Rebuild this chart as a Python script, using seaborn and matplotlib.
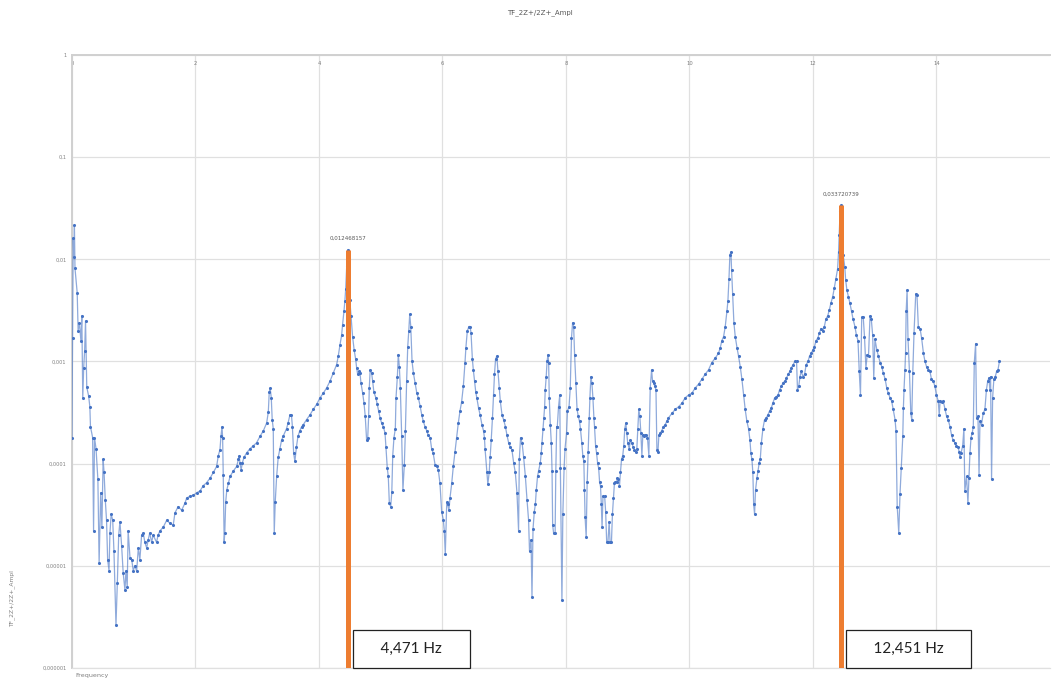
import pandas as pd
import seaborn as sns
import matplotlib.pyplot as plt
import numpy as np
from matplotlib.ticker import FuncFormatter, LogLocator, MultipleLocator, NullLocator

# frequency (Hz) / amplitude, split in segments
freq_1 = [0.000, 0.010, 0.020, 0.030, 0.040, 0.049, 0.085, 0.100, 0.120, 0.145, 0.160,
          0.175, 0.190, 0.205, 0.220, 0.240, 0.270, 0.290, 0.300, 0.335, 0.350,
          0.365, 0.390, 0.420, 0.440, 0.465, 0.485, 0.505, 0.520, 0.540, 0.560,
          0.578, 0.600, 0.615, 0.635, 0.660, 0.680, 0.713, 0.735, 0.757, 0.777,
          0.805, 0.830, 0.858, 0.875, 0.895, 0.910, 0.940, 0.967, 0.993, 1.020,
          1.048, 1.075, 1.100, 1.128, 1.155, 1.180, 1.210, 1.235, 1.260, 1.290,
          1.315, 1.370, 1.395, 1.425, 1.480, 1.535, 1.590, 1.640, 1.668, 1.720,
          1.776, 1.830, 1.857, 1.910, 1.965, 2.020, 2.073, 2.127, 2.180, 2.235,
          2.290, 2.343, 2.370, 2.397, 2.413, 2.430]
ampl_1 = [1.8e-4, 1.7e-3, 1.6e-2, 1.05e-2, 2.15e-2, 8.2e-3, 4.7e-3, 2.0e-3, 2.4e-3, 1.6e-3, 2.8e-3,
          4.4e-4, 8.7e-4, 1.26e-3, 2.5e-3, 5.6e-4, 4.6e-4, 3.6e-4, 2.3e-4, 1.8e-4, 2.2e-5,
          1.8e-4, 1.4e-4, 7.0e-5, 1.07e-5, 5.2e-5, 2.4e-5, 1.1e-4, 8.2e-5, 4.4e-5, 2.8e-5,
          1.15e-5, 9.0e-6, 2.1e-5, 3.2e-5, 2.8e-5, 1.4e-5, 2.65e-6, 6.8e-6, 2.0e-5, 2.7e-5,
          1.55e-5, 8.5e-6, 5.8e-6, 9.0e-6, 6.2e-6, 2.2e-5, 1.2e-5, 1.15e-5, 9.0e-6, 1.0e-5,
          8.9e-6, 1.5e-5, 1.15e-5, 2.0e-5, 2.1e-5, 1.7e-5, 1.5e-5, 1.8e-5, 2.1e-5, 1.7e-5,
          2.0e-5, 1.7e-5, 2.0e-5, 2.2e-5, 2.4e-5, 2.8e-5, 2.6e-5, 2.5e-5, 3.3e-5, 3.8e-5,
          3.5e-5, 4.1e-5, 4.6e-5, 4.8e-5, 4.9e-5, 5.2e-5, 5.4e-5, 6.1e-5, 6.5e-5, 7.2e-5,
          8.2e-5, 9.4e-5, 1.2e-4, 1.37e-4, 1.85e-4, 2.3e-4]

freq_2 = [2.440, 2.450, 2.465, 2.475, 2.490, 2.507, 2.533, 2.560, 2.615, 2.668,
          2.695, 2.710, 2.720, 2.740, 2.760, 2.785, 2.830, 2.883, 2.937, 2.990,
          3.045, 3.100, 3.153, 3.180, 3.195, 3.210, 3.228, 3.243, 3.260, 3.276,
          3.292, 3.315, 3.340, 3.368, 3.395, 3.420, 3.475, 3.500, 3.530, 3.555,
          3.570, 3.590, 3.610, 3.635, 3.660, 3.690, 3.720, 3.745, 3.800, 3.854,
          3.908, 3.962, 4.016, 4.070, 4.124, 4.178, 4.232, 4.286, 4.313, 4.340,
          4.367, 4.383, 4.405, 4.420, 4.433, 4.450]
ampl_2 = [1.8e-4, 7.8e-5, 1.7e-5, 2.1e-5, 4.2e-5, 5.5e-5, 6.4e-5, 7.5e-5, 8.5e-5, 9.4e-5,
          1.1e-4, 1.2e-4, 1.02e-4, 8.7e-5, 1.02e-4, 1.15e-4, 1.28e-4, 1.4e-4, 1.5e-4, 1.6e-4,
          1.85e-4, 2.1e-4, 2.5e-4, 3.2e-4, 5.0e-4, 5.5e-4, 4.4e-4, 2.7e-4, 2.2e-4, 2.1e-5,
          4.2e-5, 7.5e-5, 1.15e-4, 1.4e-4, 1.7e-4, 1.85e-4, 2.2e-4, 2.5e-4, 3.0e-4, 3.0e-4,
          2.3e-4, 1.28e-4, 1.05e-4, 1.45e-4, 1.85e-4, 2.1e-4, 2.3e-4, 2.4e-4, 2.7e-4, 3.0e-4,
          3.4e-4, 3.8e-4, 4.4e-4, 4.9e-4, 5.5e-4, 6.4e-4, 7.7e-4, 9.3e-4, 1.13e-3, 1.45e-3,
          1.8e-3, 2.3e-3, 3.1e-3, 3.9e-3, 5.1e-3, 8.7e-3]

freq_3 = [4.471, 4.500, 4.520, 4.545, 4.570, 4.595, 4.610, 4.627, 4.643, 4.665,
          4.680, 4.708, 4.730, 4.750, 4.772, 4.790, 4.805, 4.815, 4.830, 4.853,
          4.870, 4.890, 4.923, 4.945, 4.967, 4.990, 5.015, 5.043, 5.070, 5.085,
          5.107, 5.123, 5.140, 5.162, 5.180, 5.195, 5.215, 5.237, 5.248, 5.270,
          5.285, 5.302, 5.318, 5.340, 5.360, 5.383, 5.400, 5.420, 5.438, 5.455,
          5.470, 5.487, 5.508, 5.530, 5.557, 5.585, 5.610, 5.637, 5.665, 5.690,
          5.718, 5.745, 5.770, 5.800, 5.825, 5.850, 5.880, 5.907, 5.933, 5.960]
ampl_3 = [1.2468157e-2, 4.0e-3, 2.8e-3, 1.75e-3, 1.3e-3, 1.05e-3, 8.7e-4, 7.5e-4, 8.0e-4, 7.7e-4,
          6.2e-4, 4.9e-4, 3.9e-4, 2.9e-4, 1.7e-4, 1.8e-4, 2.9e-4, 5.5e-4, 8.3e-4, 7.7e-4,
          6.4e-4, 5.0e-4, 4.4e-4, 3.8e-4, 3.3e-4, 2.8e-4, 2.5e-4, 2.3e-4, 2.0e-4, 1.45e-4,
          9.0e-5, 7.5e-5, 4.1e-5, 3.8e-5, 5.3e-5, 1.2e-4, 1.8e-4, 2.2e-4, 4.4e-4, 7.1e-4,
          1.17e-3, 8.9e-4, 5.5e-4, 1.85e-4, 5.5e-5, 9.8e-5, 2.1e-4, 6.4e-4, 1.4e-3, 2.0e-3,
          2.9e-3, 2.2e-3, 1.0e-3, 7.7e-4, 6.2e-4, 4.9e-4, 4.4e-4, 3.7e-4, 3.0e-4, 2.6e-4,
          2.3e-4, 2.1e-4, 1.9e-4, 1.8e-4, 1.4e-4, 1.27e-4, 9.8e-5, 9.4e-5, 8.7e-5, 6.4e-5]

freq_4 = [5.987, 6.015, 6.030, 6.046, 6.070, 6.085, 6.105, 6.122, 6.150, 6.176,
          6.203, 6.230, 6.257, 6.285, 6.310, 6.338, 6.365, 6.380, 6.403, 6.430,
          6.447, 6.463, 6.485, 6.500, 6.520, 6.540, 6.557, 6.585, 6.610, 6.640,
          6.665, 6.680, 6.690, 6.720, 6.735, 6.757, 6.773, 6.790, 6.810, 6.827,
          6.843, 6.860, 6.880, 6.900, 6.920, 6.937, 6.965, 6.990, 7.020, 7.045,
          7.072, 7.100, 7.125, 7.153, 7.180, 7.207, 7.233, 7.245, 7.265, 7.290,
          7.315, 7.343, 7.370, 7.395, 7.410, 7.435, 7.450, 7.467, 7.488, 7.505,
          7.520, 7.540, 7.557, 7.585, 7.600, 7.612, 7.628, 7.640, 7.655, 7.665,
          7.680, 7.694, 7.710, 7.720, 7.730, 7.747, 7.763, 7.775, 7.785, 7.800,
          7.825, 7.836, 7.850, 7.860, 7.880, 7.900]
ampl_4 = [3.4e-5, 2.8e-5, 2.2e-5, 1.3e-5, 4.2e-5, 4.0e-5, 3.5e-5, 4.6e-5, 6.4e-5, 9.4e-5,
          1.3e-4, 1.8e-4, 2.5e-4, 3.3e-4, 4.0e-4, 5.7e-4, 9.7e-4, 1.37e-3, 2.0e-3, 2.2e-3,
          2.2e-3, 1.9e-3, 1.05e-3, 8.3e-4, 6.4e-4, 5.0e-4, 4.4e-4, 3.5e-4, 3.0e-4, 2.4e-4,
          2.1e-4, 1.8e-4, 1.4e-4, 8.2e-5, 6.3e-5, 8.2e-5, 1.15e-4, 1.7e-4, 2.8e-4, 4.7e-4,
          7.5e-4, 1.05e-3, 1.13e-3, 8.0e-4, 5.5e-4, 4.1e-4, 3.0e-4, 2.7e-4, 2.3e-4, 1.9e-4,
          1.6e-4, 1.45e-4, 1.37e-4, 1.02e-4, 8.2e-5, 5.2e-5, 2.2e-5, 1.1e-4, 1.8e-4, 1.6e-4,
          1.15e-4, 7.5e-5, 4.4e-5, 2.8e-5, 1.4e-5, 1.8e-5, 5.0e-6, 2.3e-5, 3.4e-5, 4.0e-5,
          5.5e-5, 7.5e-5, 8.5e-5, 1.02e-4, 1.27e-4, 1.6e-4, 2.2e-4, 2.8e-4, 3.6e-4, 5.3e-4,
          7.0e-4, 1.0e-3, 1.17e-3, 9.7e-4, 4.4e-4, 2.4e-4, 1.6e-4, 8.5e-5, 2.5e-5, 2.1e-5,
          2.1e-5, 8.5e-5, 2.3e-4, 2.3e-4, 3.6e-4, 4.7e-4]

freq_5 = [7.910, 7.935, 7.950, 7.970, 7.985, 8.010, 8.025, 8.050, 8.070, 8.090,
          8.108, 8.125, 8.140, 8.160, 8.180, 8.200, 8.220, 8.235, 8.257, 8.273,
          8.290, 8.300, 8.310, 8.328, 8.344, 8.360, 8.377, 8.388, 8.404, 8.420,
          8.437, 8.453, 8.463, 8.480, 8.496, 8.512, 8.530, 8.545, 8.560, 8.573,
          8.585, 8.600, 8.627, 8.643, 8.660, 8.680, 8.700, 8.715, 8.737, 8.753,
          8.770, 8.785, 8.800, 8.820, 8.835, 8.850, 8.867, 8.883, 8.900, 8.920,
          8.937, 8.953, 8.970, 8.985, 9.000, 9.025, 9.045, 9.067, 9.090, 9.110,
          9.130, 9.148, 9.165, 9.180, 9.197, 9.213, 9.230, 9.245, 9.262, 9.277,
          9.300, 9.320, 9.343, 9.365, 9.387, 9.403, 9.420, 9.440, 9.458, 9.473,
          9.490, 9.505, 9.530, 9.550, 9.580, 9.605, 9.633, 9.660, 9.715, 9.770,
          9.823, 9.877, 9.930, 9.985]
ampl_5 = [9.0e-5, 4.6e-6, 3.2e-5, 9.0e-5, 1.4e-4, 2.0e-4, 3.3e-4, 3.6e-4, 5.5e-4, 1.7e-3,
          2.4e-3, 2.2e-3, 1.17e-3, 6.2e-4, 3.4e-4, 2.9e-4, 2.6e-4, 2.2e-4, 1.6e-4, 1.2e-4,
          1.05e-4, 5.5e-5, 3.0e-5, 1.9e-5, 6.6e-5, 1.3e-4, 2.8e-4, 4.4e-4, 7.1e-4, 6.2e-4,
          4.4e-4, 2.8e-4, 2.3e-4, 1.5e-4, 1.27e-4, 1.02e-4, 9.0e-5, 6.6e-5, 6.0e-5, 4.0e-5,
          2.4e-5, 4.8e-5, 4.8e-5, 3.4e-5, 1.7e-5, 1.7e-5, 2.7e-5, 1.7e-5, 1.7e-5, 3.2e-5,
          4.6e-5, 6.4e-5, 6.6e-5, 6.6e-5, 7.3e-5, 7.0e-5, 6.0e-5, 8.2e-5, 1.1e-4, 1.2e-4,
          1.5e-4, 2.2e-4, 2.5e-4, 2.0e-4, 1.6e-4, 1.4e-4, 1.7e-4, 1.6e-4, 1.45e-4, 1.37e-4,
          1.3e-4, 1.4e-4, 2.2e-4, 3.4e-4, 2.9e-4, 2.0e-4, 1.2e-4, 1.9e-4, 1.85e-4, 1.9e-4,
          1.9e-4, 1.8e-4, 1.2e-4, 5.5e-4, 8.3e-4, 6.4e-4, 6.2e-4, 5.7e-4, 5.3e-4, 1.37e-4,
          1.3e-4, 1.9e-4, 2.0e-4, 2.1e-4, 2.3e-4, 2.4e-4, 2.6e-4, 2.8e-4, 3.1e-4, 3.4e-4,
          3.6e-4, 3.9e-4, 4.4e-4, 4.7e-4]

freq_6 = [10.040, 10.093, 10.147, 10.200, 10.255, 10.310, 10.360, 10.417, 10.470, 10.500,
          10.525, 10.553, 10.580, 10.607, 10.623, 10.640, 10.655, 10.672, 10.683, 10.700,
          10.720, 10.742, 10.770, 10.795, 10.823, 10.850, 10.877, 10.903, 10.930, 10.957,
          10.980, 10.995, 11.012, 11.027, 11.040, 11.055, 11.070, 11.093, 11.110, 11.130,
          11.147, 11.165, 11.190, 11.217, 11.245, 11.270, 11.300, 11.325, 11.350, 11.380,
          11.405, 11.435, 11.460, 11.490, 11.515, 11.545, 11.570, 11.600, 11.625, 11.650,
          11.680, 11.705, 11.735, 11.750, 11.770, 11.790, 11.810, 11.840, 11.865, 11.890,
          11.920, 11.945, 11.970, 12.000, 12.025, 12.050, 12.080, 12.105, 12.130, 12.160,
          12.185, 12.210, 12.240, 12.265, 12.290, 12.320, 12.345, 12.370, 12.400, 12.415,
          12.425, 12.440, 12.451]
ampl_6 = [4.9e-4, 5.5e-4, 6.0e-4, 6.7e-4, 7.5e-4, 8.3e-4, 9.7e-4, 1.08e-3, 1.2e-3, 1.37e-3,
          1.6e-3, 1.75e-3, 2.2e-3, 3.1e-3, 3.9e-3, 6.4e-3, 1.1e-2, 1.18e-2, 7.8e-3, 4.6e-3,
          2.4e-3, 1.75e-3, 1.37e-3, 1.13e-3, 8.9e-4, 6.7e-4, 4.7e-4, 3.4e-4, 2.6e-4, 2.2e-4,
          1.7e-4, 1.27e-4, 1.1e-4, 8.2e-5, 4.0e-5, 3.2e-5, 5.5e-5, 7.2e-5, 8.5e-5, 1.02e-4,
          1.1e-4, 1.6e-4, 2.2e-4, 2.7e-4, 2.8e-4, 3.0e-4, 3.3e-4, 3.5e-4, 3.9e-4, 4.4e-4,
          4.5e-4, 4.7e-4, 5.3e-4, 5.7e-4, 6.2e-4, 6.4e-4, 6.9e-4, 7.5e-4, 8.0e-4, 8.7e-4,
          9.3e-4, 1.0e-3, 1.0e-3, 5.3e-4, 5.7e-4, 7.1e-4, 8.0e-4, 7.1e-4, 7.5e-4, 9.3e-4,
          1.0e-3, 1.13e-3, 1.2e-3, 1.3e-3, 1.4e-3, 1.6e-3, 1.7e-3, 1.9e-3, 2.1e-3, 2.0e-3,
          2.2e-3, 2.6e-3, 2.8e-3, 3.2e-3, 3.7e-3, 4.3e-3, 5.2e-3, 6.4e-3, 8.1e-3, 1.18e-2,
          1.72e-2, 3.0e-2, 3.3720739e-2]

freq_7 = [12.490, 12.516, 12.530, 12.550, 12.575, 12.600, 12.625, 12.650, 12.680, 12.705,
          12.730, 12.750, 12.770, 12.790, 12.815, 12.835, 12.858, 12.880, 12.900, 12.925,
          12.945, 12.968, 12.985, 13.005, 13.035, 13.060, 13.090, 13.115, 13.140, 13.170,
          13.195, 13.220, 13.250, 13.275, 13.300, 13.330, 13.345, 13.365, 13.390, 13.410,
          13.430, 13.455, 13.465, 13.475, 13.490, 13.500, 13.510, 13.525, 13.540, 13.563,
          13.585, 13.600, 13.617, 13.637, 13.665, 13.685, 13.707, 13.735, 13.760, 13.790,
          13.815, 13.840, 13.870, 13.895, 13.920, 13.950, 13.976, 14.000, 14.030, 14.045,
          14.060, 14.085, 14.110, 14.140, 14.165, 14.190, 14.220, 14.245, 14.270, 14.300,
          14.325, 14.350, 14.370, 14.380, 14.400, 14.425, 14.445, 14.460, 14.488, 14.510,
          14.527, 14.543, 14.560, 14.580, 14.597, 14.613, 14.635, 14.650, 14.673, 14.690,
          14.705, 14.730, 14.757, 14.785, 14.810, 14.830, 14.850, 14.865, 14.877, 14.893,
          14.910, 14.930, 14.953, 14.975, 14.997, 15.020]
ampl_7 = [1.1e-2, 8.4e-3, 6.3e-3, 5.0e-3, 4.3e-3, 3.7e-3, 3.1e-3, 2.6e-3, 2.2e-3, 1.8e-3,
          1.6e-3, 8.0e-4, 4.7e-4, 2.7e-3, 2.7e-3, 1.75e-3, 8.7e-4, 1.17e-3, 1.13e-3, 2.8e-3,
          2.6e-3, 1.8e-3, 6.9e-4, 1.65e-3, 1.3e-3, 1.13e-3, 9.7e-4, 8.9e-4, 7.7e-4, 6.7e-4,
          5.5e-4, 4.9e-4, 4.4e-4, 4.1e-4, 3.4e-4, 2.7e-4, 2.1e-4, 3.8e-5, 2.1e-5, 5.0e-5,
          9.0e-5, 1.85e-4, 3.5e-4, 5.3e-4, 8.3e-4, 1.2e-3, 3.1e-3, 5.0e-3, 1.65e-3, 8.0e-4,
          3.1e-4, 2.7e-4, 7.7e-4, 1.9e-3, 4.6e-3, 4.5e-3, 2.2e-3, 2.1e-3, 1.7e-3, 1.2e-3,
          1.0e-3, 8.9e-4, 8.3e-4, 8.0e-4, 6.7e-4, 6.4e-4, 5.7e-4, 4.7e-4, 4.1e-4, 3.0e-4,
          4.1e-4, 4.0e-4, 4.1e-4, 3.4e-4, 2.9e-4, 2.7e-4, 2.3e-4, 1.9e-4, 1.7e-4, 1.6e-4,
          1.5e-4, 1.45e-4, 1.3e-4, 1.15e-4, 1.27e-4, 1.5e-4, 2.2e-4, 5.4e-5, 7.5e-5, 4.1e-5,
          7.2e-5, 1.27e-4, 1.8e-4, 2.0e-4, 2.3e-4, 9.7e-4, 1.5e-3, 2.8e-4, 2.9e-4, 7.8e-5,
          2.6e-4, 2.4e-4, 3.1e-4, 3.4e-4, 5.3e-4, 6.4e-4, 6.9e-4, 5.3e-4, 7.1e-4, 7.0e-5,
          4.4e-4, 6.7e-4, 7.1e-4, 8.0e-4, 8.3e-4, 1.0e-3]

# marked resonance peaks
peak_freq = [4.471, 12.451]
peak_ampl = [0.012468157, 0.033720739]

segments = [(freq_1, ampl_1), (freq_2, ampl_2), (freq_3, ampl_3), (freq_4, ampl_4),
            (freq_5, ampl_5), (freq_6, ampl_6), (freq_7, ampl_7)]
df = pd.concat([pd.DataFrame({'freq': f, 'ampl': a}) for f, a in segments], ignore_index=True)

blue = '#4472C4'
orange = '#ED7D31'
grey_txt = '#7F7F7F'

sns.set_theme(style='white')
plt.rcParams['font.family'] = ['DejaVu Sans']

fig = plt.figure(figsize=(10.55, 6.84), dpi=100)
ax = fig.add_axes([0.0682, 0.0234, 0.9271, 0.8962])

# line + markers (line a bit lighter than the dots)
sns.lineplot(data=df, x='freq', y='ampl', ax=ax, color=blue, lw=0.9, alpha=0.6,
             estimator=None, sort=False, zorder=3)
sns.scatterplot(data=df, x='freq', y='ampl', ax=ax, color=blue, s=5, linewidth=0, zorder=4)

ax.set_yscale('log')
ax.set_ylim(1e-6, 1)
ax.set_xlim(0, 15.84)

# orange markers for the two peaks
for f, a in zip(peak_freq, peak_ampl):
    ax.vlines(f, 1e-6, a, color=orange, lw=3.6, zorder=5)
    ax.annotate(f"{a:.9f}".replace('.', ','), xy=(f, a), xytext=(0, 6),
                textcoords='offset points', ha='center', va='bottom',
                fontsize=4, color='#595959')
    ax.annotate("    " + f"{f:.3f}".replace('.', ',') + " Hz    ", xy=(f, 1e-6),
                xytext=(12.4, 8.8), textcoords='offset points', ha='left', va='bottom',
                fontsize=11, family=['Lato', 'DejaVu Sans'], color='#222222', zorder=6,
                annotation_clip=False,
                bbox=dict(boxstyle='square,pad=0.8', fc='white', ec='#222222', lw=0.9))

# axes / grid styling (Excel look)
ax.xaxis.set_major_locator(MultipleLocator(2))
ax.yaxis.set_major_locator(LogLocator(base=10, numticks=10))
ax.yaxis.set_minor_locator(NullLocator())


def comma_fmt(v, pos):
    n = max(0, int(round(-np.log10(v))))
    return f"{v:.{n}f}".replace('.', ',')


ax.yaxis.set_major_formatter(FuncFormatter(comma_fmt))
ax.xaxis.set_major_formatter(FuncFormatter(lambda v, pos: f"{v:.0f}"))
ax.grid(True, color='#E0E0E0', lw=0.9)
ax.set_axisbelow(True)
ax.tick_params(axis='x', bottom=False, labelbottom=False, top=True, labeltop=True,
               length=0, pad=-8, labelsize=3.8, labelcolor=grey_txt)
ax.tick_params(axis='y', length=0, pad=4, labelsize=3.6, labelcolor=grey_txt)
for side in ['left', 'top']:
    ax.spines[side].set_color('#D0D0D0')
    ax.spines[side].set_linewidth(1.4)
ax.spines['bottom'].set_color('#E0E0E0')
ax.spines['bottom'].set_linewidth(0.9)
ax.spines['right'].set_visible(False)

ax.set_xlabel('Frequency', fontsize=4.6, color=grey_txt, ha='left')
ax.xaxis.set_label_coords(0.003, -0.008)
ax.set_ylabel('TF_2Z+/2Z+_Ampl', fontsize=4.3, color=grey_txt)
ax.yaxis.set_label_coords(-0.058, 0.114)

fig.text(0.512, 0.982, 'TF_2Z+/2Z+_Ampl', ha='center', va='center',
         fontsize=5, color='#595959')

fig.savefig('out.png', dpi=100)
